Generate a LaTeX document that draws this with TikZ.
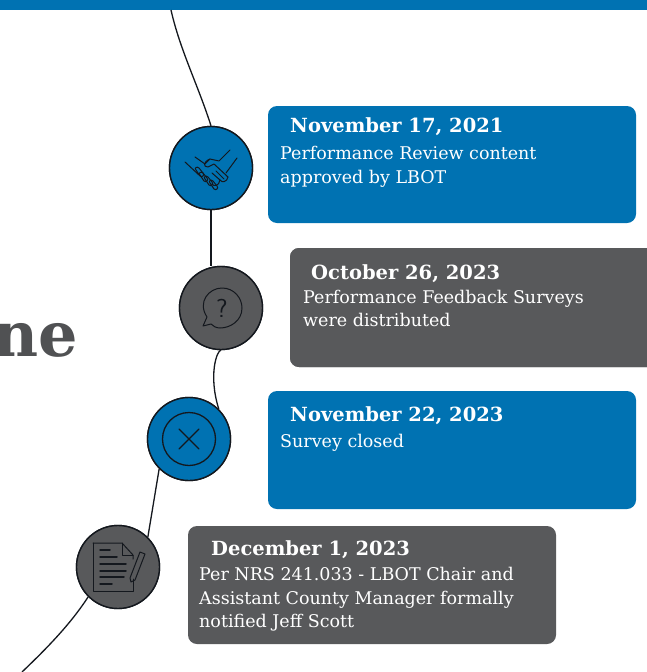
\documentclass[tikz,border=0pt]{standalone}
\usepackage{fontspec}
\setmainfont{DejaVu Serif}
\usetikzlibrary{calc}
\definecolor{bluec}{RGB}{0,114,178}
\definecolor{greyc}{RGB}{88,89,91}
\definecolor{inkc}{RGB}{20,24,30}
\definecolor{headc}{RGB}{80,81,83}
\tikzset{
  x=1pt,y=-1pt,
  card/.style={rounded corners=9pt,draw=none},
  bluecard/.style={card,fill=bluec},
  greycard/.style={card,fill=greyc},
  disc/.style={circle,draw=inkc,line width=1.4pt,minimum size=83pt,inner sep=0pt},
  bluedisc/.style={disc,fill=bluec},
  greydisc/.style={disc,fill=greyc},
  link/.style={draw=inkc,line width=1.3pt},
  icon/.style={draw=inkc,line width=1pt,line cap=round,line join=round},
  datet/.style={anchor=base west,inner sep=0pt,text=white,font=\fontsize{19.5}{22}\selectfont\bfseries},
  bodyt/.style={anchor=base west,inner sep=0pt,text=white,font=\fontsize{17.5}{20}\selectfont},
}
\begin{document}
\begin{tikzpicture}
\useasboundingbox (0,0) rectangle (647,672);
\clip (0,0) rectangle (647,672);
\fill[white] (0,0) rectangle (647,672);
\fill[bluec] (0,0) rectangle (647,10);
% heading fragment
\node[anchor=base west,inner sep=0pt,text=headc,font=\fontsize{62}{70}\selectfont\bfseries] (hd) at (-7,356) {ne};
% discs
\node[bluedisc] (d1) at (211,168) {};
\node[greydisc] (d2) at (221,308) {};
\node[bluedisc] (d3) at (189,439) {};
\node[greydisc] (d4) at (118,567) {};
\coordinate (top) at (171,10);
\coordinate (bot) at (22,672);
% connectors
\begin{scope}[on background layer/.try]
\end{scope}
\draw[link] (top) .. controls (180,50) and (198,85) .. (d1.north);
\draw[link] (d1.south) -- (d2.north -| d1.south);
\draw[link] (d2.south) .. controls (217,350) and (208,375) .. (d3.north east);
\draw[link] (d3.south west) -- (d4.north east);
\draw[link] (d4.south west) .. controls (70,625) and (45,650) .. (bot);
% redraw discs on top of link ends
\node[bluedisc] at (d1) {};
\node[greydisc] at (d2) {};
\node[bluedisc] at (d3) {};
\node[greydisc] at (d4) {};
% handshake icon
\begin{scope}[shift={(d1.center)}]
\draw[icon] (-16,-11) -- (-6,-4) -- (-1,-9) -- (8,-7) -- (19,-18);
\draw[icon] (-1,-9) .. controls (-8,-6) and (-8,-1) .. (-3,-1) -- (3,-4) -- (17,9);
\draw[icon] (-26,-6) -- (-12,7);
\draw[icon] (26,-10) -- (15,5);
\draw[icon] (17,9) .. controls (16,14) and (11,15) .. (9,12);
\draw[icon] (9,12) .. controls (8,18) and (3,19) .. (1,16);
\draw[icon] (13,11) -- (5,3);
\draw[icon] (9,12) -- (1,5);
\foreach \a/\b in {-12/5,-8/10,-3/14,2/18}{
  \draw[icon] (\a-3,\b-3) -- (\a+1,\b+3) .. controls (\a+3,\b+5) and (\a+6,\b+2) .. (\a+4,\b) -- (\a,\b-5) .. controls (\a-2,\b-7) and (\a-5,\b-5) .. (\a-3,\b-3);
}
\end{scope}
% question bubble icon
\begin{scope}[shift={(d2.center)}]
\draw[icon] (-18,18) -- (-14,9) .. controls (-24,-6) and (-12,-20) .. (1,-20) .. controls (13,-20) and (21,-10) .. (21,0) .. controls (21,13) and (9,20) .. (-1,20) .. controls (-5,20) and (-8,18) .. (-10,16) -- cycle;
\node[inner sep=0pt,text=inkc,font=\fontsize{26}{26}\selectfont\sffamily] (q) at (1,0) {?};
\end{scope}
% cross icon
\begin{scope}[shift={(d3.center)}]
\draw[icon,line width=1.3pt] (0,0) circle (26.5);
\draw[icon,line width=1.3pt] (-10,-10) -- (10,10) (10,-10) -- (-10,10);
\end{scope}
% document icon
\begin{scope}[shift={(d4.center)}]
\draw[icon] (-25,-24) -- (4,-24) -- (15,-12) -- (15,-8);
\draw[icon] (4,-24) -- (4,-12) -- (15,-12);
\draw[icon] (-25,-24) -- (-25,24) -- (15,24) -- (15,12);
\draw[icon,line width=1.5pt] (-18,-17) -- (-8,-17) (-18,-10) -- (-1,-10) (-18,-3) -- (8,-3) (-18,4) -- (8,4) (-18,10) -- (6,10) (-18,17) -- (-6,17);
\draw[icon] (12,11) -- (22,-15) -- (27,-13) -- (17,13) -- (13,15) -- cycle;
\end{scope}
% cards
\path[bluecard] (268,106) rectangle (636,223);
\path[greycard] (290,248) -- (658,248) -- (658,367) -- (290,367) -- cycle;
\path[greycard] (290,248) rectangle (660,367);
\path[bluecard] (268,391) rectangle (636,509);
\path[greycard] (188,526) rectangle (556,644);
% text
\node[datet] (t1) at (290,132) {November 17, 2021};
\node[bodyt] (b1a) at (280,159) {Performance Review content};
\node[bodyt] (b1b) at (280,183) {approved by LBOT};
\node[datet] (t2) at (311,279) {October 26, 2023};
\node[bodyt] (b2a) at (303,303) {Performance Feedback Surveys};
\node[bodyt] (b2b) at (303,326) {were distributed};
\node[datet] (t3) at (290,421) {November 22, 2023};
\node[bodyt] (b3a) at (280,447) {Survey closed};
\node[datet] (t4) at (211,555) {December 1, 2023};
\node[bodyt] (b4a) at (199,580) {Per NRS 241.033 - LBOT Chair and};
\node[bodyt] (b4b) at (199,604) {Assistant County Manager formally};
\node[bodyt] (b4c) at (199,627) {notified Jeff Scott};
\end{tikzpicture}
\end{document}
